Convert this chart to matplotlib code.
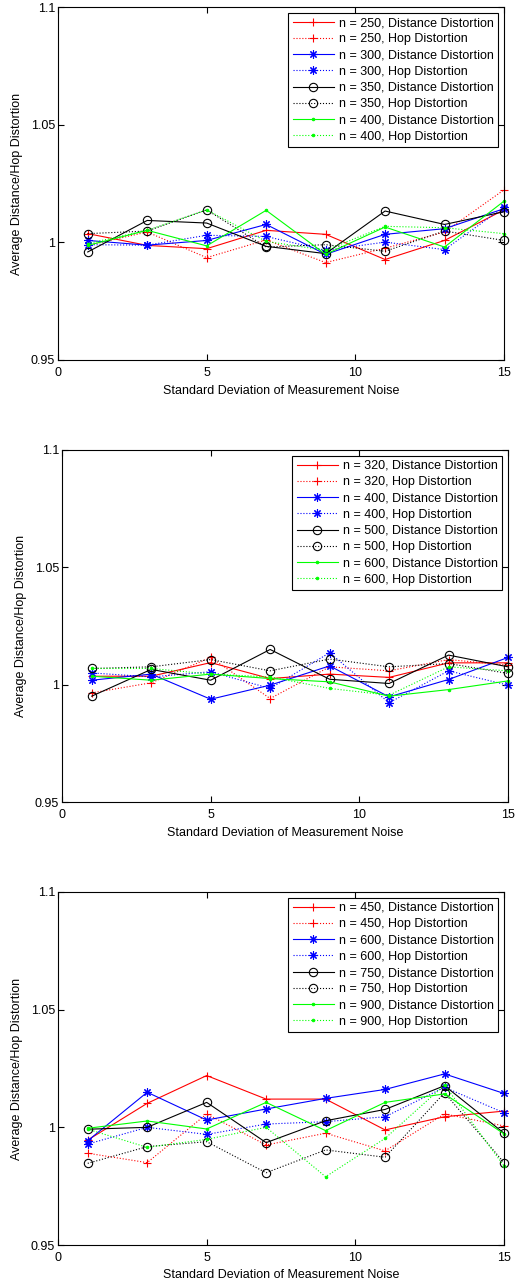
import numpy as np
import matplotlib.pyplot as plt

plt.rcParams['font.family'] = ['Liberation Sans', 'DejaVu Sans']

noise = [1, 3, 5, 7, 9, 11, 13, 15]

# panel 1
n_top = [250, 300, 350, 400]
dist_top = [
    [1.0037, 0.9987, 0.9973, 1.0051, 1.0034, 0.9927, 1.0008, 1.0138],
    [1.0008, 0.9988, 1.0008, 1.0076, 0.9949, 1.0034, 1.0058, 1.0143],
    [0.9959, 1.0093, 1.0082, 0.9983, 0.9952, 1.0133, 1.0076, 1.0130],
    [0.9987, 1.0051, 0.9985, 1.0136, 0.9949, 1.0065, 0.9980, 1.0175],
]
hop_top = [
    [0.9987, 1.0044, 0.9935, 1.0010, 0.9914, 0.9975, 1.0044, 1.0223],
    [0.9990, 0.9988, 1.0030, 1.0025, 0.9966, 1.0001, 0.9969, 1.0150],
    [1.0037, 1.0048, 1.0138, 0.9980, 0.9990, 0.9962, 1.0048, 1.0008],
    [0.9995, 1.0051, 1.0138, 1.0004, 0.9966, 1.0068, 1.0062, 1.0037],
]

# panel 2
n_mid = [320, 400, 500, 600]
dist_mid = [
    [1.0036, 1.0036, 1.0094, 1.0026, 1.0045, 1.0031, 1.0093, 1.0093],
    [1.0019, 1.0045, 0.9938, 0.9998, 1.0080, 0.9948, 1.0022, 1.0116],
    [0.9951, 1.0065, 1.0019, 1.0150, 1.0023, 1.0005, 1.0126, 1.0076],
    [1.0036, 1.0019, 1.0045, 1.0026, 1.0012, 0.9951, 0.9979, 1.0016],
]
hop_mid = [
    [0.9965, 1.0008, 1.0116, 0.9941, 1.0076, 1.0059, 1.0107, 1.0083],
    [1.0050, 1.0033, 1.0055, 0.9984, 1.0136, 0.9923, 1.0059, 0.9998],
    [1.0069, 1.0076, 1.0107, 1.0059, 1.0109, 1.0076, 1.0090, 1.0048],
    [1.0069, 1.0069, 1.0045, 1.0033, 0.9984, 0.9955, 1.0076, 1.0059],
]

# panel 3
n_bot = [450, 600, 750, 900]
dist_bot = [
    [0.9946, 1.0102, 1.0220, 1.0120, 1.0120, 0.9989, 1.0045, 1.0069],
    [0.9943, 1.0149, 1.0031, 1.0078, 1.0123, 1.0161, 1.0227, 1.0144],
    [0.9992, 1.0000, 1.0106, 0.9935, 1.0028, 1.0076, 1.0177, 0.9975],
    [0.9996, 1.0027, 0.9993, 1.0106, 0.9986, 1.0106, 1.0142, 0.9972],
]
hop_bot = [
    [0.9890, 0.9850, 1.0057, 0.9925, 0.9975, 0.9900, 1.0057, 1.0006],
    [0.9929, 1.0000, 0.9970, 1.0014, 1.0024, 1.0045, 1.0170, 1.0062],
    [0.9847, 0.9918, 0.9939, 0.9807, 0.9904, 0.9873, 1.0147, 0.9850],
    [0.9992, 0.9915, 0.9949, 1.0000, 0.9790, 0.9953, 1.0180, 0.9836],
]

colors = ['#ff0000', '#0000ff', '#000000', '#00ff00']
markers = ['+', (8, 2, 0), 'o', '.']
msizes = [6, 6, 6, 3.5]

W, H = 516, 1281
fig = plt.figure(figsize=(W / 100, H / 100), dpi=100)

# left, right, top, bottom in pixels
boxes = [(58, 504, 7, 360), (62, 508, 450, 802), (58, 504, 892, 1245)]
panels = [(n_top, dist_top, hop_top), (n_mid, dist_mid, hop_mid), (n_bot, dist_bot, hop_bot)]

for (l, r, t, b), (ns, dist, hop) in zip(boxes, panels):
    ax = fig.add_axes([l / W, 1 - b / H, (r - l) / W, (b - t) / H])
    for i in range(4):
        mfc = 'none' if markers[i] == 'o' else colors[i]
        ax.plot(noise, dist[i], color=colors[i], ls='-', lw=0.8, marker=markers[i],
                ms=msizes[i], mfc=mfc, mew=0.8, clip_on=False,
                label='n = %d, Distance Distortion' % ns[i])
        ax.plot(noise, hop[i], color=colors[i], ls=':', lw=0.8, marker=markers[i],
                ms=msizes[i], mfc=mfc, mew=0.8, clip_on=False,
                label='n = %d, Hop Distortion' % ns[i])
    ax.set_xlim(0, 15)
    ax.set_ylim(0.95, 1.1)
    ax.set_xticks([0, 5, 10, 15])
    ax.set_xticklabels(['0', '5', '10', '15'])
    ax.set_yticks([0.95, 1.0, 1.05, 1.1])
    ax.set_yticklabels(['0.95', '1', '1.05', '1.1'])
    ax.tick_params(direction='in', top=True, right=True, labelsize=9, length=4)
    ax.tick_params(axis='x', pad=5)
    ax.tick_params(axis='y', pad=2)
    for s in ax.spines.values():
        s.set_linewidth(0.8)
    ax.set_xlabel('Standard Deviation of Measurement Noise', fontsize=9, labelpad=4)
    ax.set_ylabel('Average Distance/Hop Distortion', fontsize=9, labelpad=6)
    leg = ax.legend(loc='upper right', fontsize=9, handlelength=3.3, numpoints=1,
                    labelspacing=0.34, borderpad=0.35, handletextpad=0.4, fancybox=False,
                    edgecolor='black', framealpha=1, borderaxespad=0.45)
    leg.get_frame().set_linewidth(0.8)

fig.savefig('out.png', dpi=100)
